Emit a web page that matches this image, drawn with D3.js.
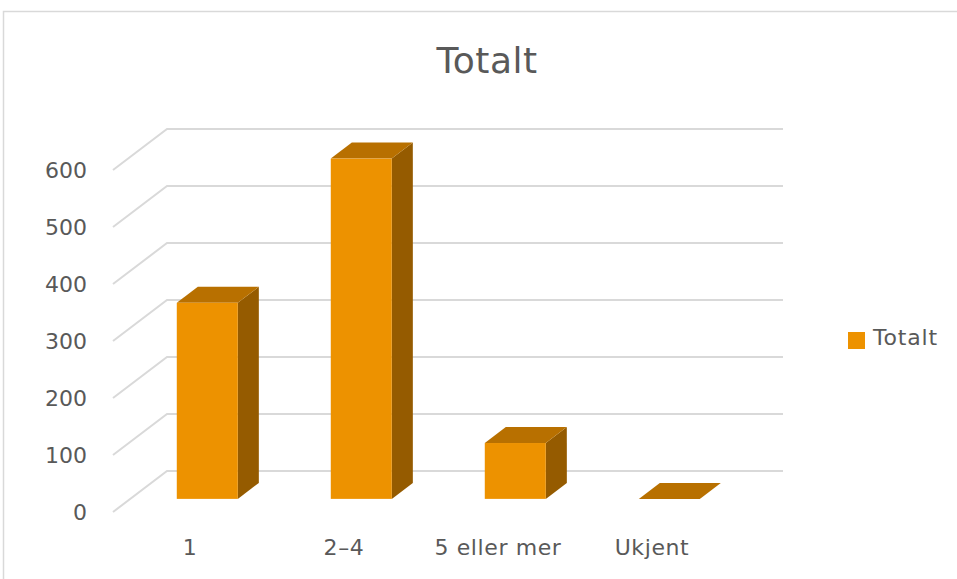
<!DOCTYPE html>
<html>
<head>
<meta charset="utf-8">
<script src="https://cdn.jsdelivr.net/npm/d3@7"></script>
<style>
  html, body { margin: 0; padding: 0; background: #fff; }
  svg { display: block; font-family: "DejaVu Sans", sans-serif; }
</style>
</head>
<body>
<div id="chart"></div>
<script>
// Data
const categories = ['1', '2–4', '5 eller mer', 'Ukjent'];
const values = [344, 597, 98, 0];
const yTicks = [0, 100, 200, 300, 400, 500, 600];
const seriesName = 'Totalt';

const W = 957, H = 579;
const textColor = '#595959';
const gridColor = '#d9d9d9';
const barFront = '#ed9200', barTop = '#b87000', barSide = '#955b00';

// oblique depth: front plane -> back wall offset
const depthX = 54, depthY = -41;
const dFront = 0.32, dBack = 0.71;

const svg = d3.select('#chart').append('svg')
  .attr('width', W).attr('height', H);

// chart frame
svg.append('rect')
  .attr('x', 3.5).attr('y', 11.5)
  .attr('width', W + 10).attr('height', H)
  .attr('fill', 'none').attr('stroke', gridColor).attr('stroke-width', 1.5);

// scales in the front plane
const x = d3.scaleBand().domain(categories).range([113, 729]);
const y = d3.scaleLinear().domain([0, 600]).range([512, 170]);
const barW = 61;

const off = t => [depthX * t, depthY * t];

// Title
svg.append('text')
  .attr('x', 487).attr('y', 73)
  .attr('text-anchor', 'middle')
  .attr('font-size', '36px')
  .attr('letter-spacing', '0.5px')
  .attr('fill', textColor)
  .text(seriesName);

// Gridlines (side wall diagonal + back wall horizontal)
const grid = svg.append('g');
yTicks.forEach(v => {
  const [bx, by] = off(1);
  grid.append('path')
    .attr('d', `M${x.range()[0]},${y(v)} L${x.range()[0] + bx},${y(v) + by} L${x.range()[1] + bx},${y(v) + by}`)
    .attr('fill', 'none')
    .attr('stroke', gridColor)
    .attr('stroke-width', 2);
});

// Y labels
svg.append('g').selectAll('text')
  .data(yTicks)
  .join('text')
  .attr('x', 87)
  .attr('y', d => y(d) + 8)
  .attr('text-anchor', 'end')
  .attr('font-size', '22px')
  .attr('fill', textColor)
  .text(d => d);

// Bars
const bars = svg.append('g').selectAll('g')
  .data(categories.map((c, i) => ({ cat: c, value: values[i] })))
  .join('g');

bars.each(function(d) {
  const g = d3.select(this);
  const cx = x(d.cat) + x.bandwidth() / 2;
  const x0 = cx - barW / 2, x1 = cx + barW / 2;
  const [fx, fy] = off(dFront);
  const [bx, by] = off(dBack);
  const yb = y(0), yt = y(d.value);
  const pts = a => a.map(p => p.join(',')).join(' ');

  // side face
  g.append('polygon')
    .attr('points', pts([[x1 + fx, yb + fy], [x1 + fx, yt + fy], [x1 + bx, yt + by], [x1 + bx, yb + by]]))
    .attr('fill', barSide);
  // top face
  g.append('polygon')
    .attr('points', pts([[x0 + fx, yt + fy], [x1 + fx, yt + fy], [x1 + bx, yt + by], [x0 + bx, yt + by]]))
    .attr('fill', barTop);
  // front face
  g.append('rect')
    .attr('x', x0 + fx).attr('y', yt + fy)
    .attr('width', barW).attr('height', yb - yt)
    .attr('fill', barFront);
});

// X labels
svg.append('g').selectAll('text')
  .data(categories)
  .join('text')
  .attr('x', d => x(d) + x.bandwidth() / 2)
  .attr('y', 555)
  .attr('text-anchor', 'middle')
  .attr('font-size', '22px')
  .attr('letter-spacing', '0.6px')
  .attr('fill', textColor)
  .text(d => d);

// Legend
const lg = svg.append('g').attr('transform', 'translate(848,332)');
lg.append('rect').attr('width', 17).attr('height', 17).attr('fill', barFront);
lg.append('text')
  .attr('x', 25).attr('y', 13)
  .attr('font-size', '22px')
  .attr('letter-spacing', '0.8px')
  .attr('fill', textColor)
  .text(seriesName);
</script>
</body>
</html>
